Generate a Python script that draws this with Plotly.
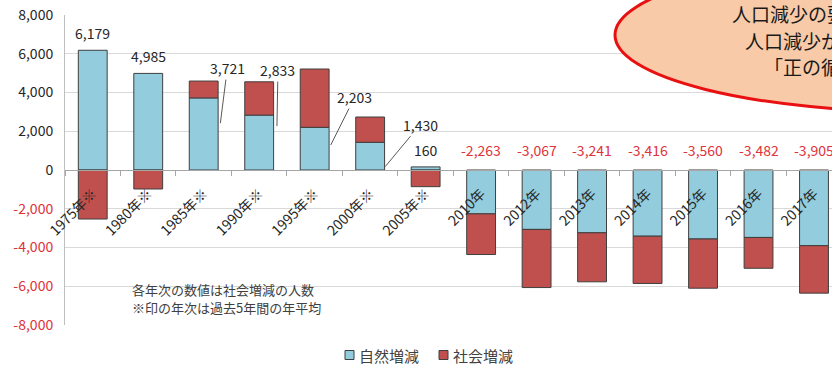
import plotly.graph_objects as go

# Years (※ = 5-year annual average)
years = ["1975年※", "1980年※", "1985年※", "1990年※", "1995年※", "2000年※", "2005年※",
         "2010年", "2012年", "2013年", "2014年", "2015年", "2016年", "2017年"]
natural_change = [6179, 4985, 3721, 2833, 2203, 1430, 160,
                  -2263, -3067, -3241, -3416, -3560, -3482, -3905]
social_change = [-2530, -980, 870, 1720, 3010, 1305, -860,
                 -2100, -3000, -2530, -2440, -2540, -1590, -2450]
y_ticks = [-8000, -6000, -4000, -2000, 0, 2000, 4000, 6000, 8000]
series_names = ["自然増減", "社会増減"]

FONT = "Noto Sans CJK JP"
BLUE = "#93CDDD"
RED = "#C0504D"
EDGE = "#3F3F3F"
NEG_TXT = "#E0323A"
W, H = 832, 365
L, R, T, B = 65, 0, 15, 40
PW, PH = W - L - R, H - T - B


def px(x):
    return (x - L) / PW


def py(y):
    return (H - B - y) / PH


fig = go.Figure()
fig.add_trace(go.Bar(x=years, y=natural_change, name=series_names[0],
                     marker=dict(color=BLUE, line=dict(color=EDGE, width=1))))
fig.add_trace(go.Bar(x=years, y=social_change, name=series_names[1],
                     marker=dict(color=RED, line=dict(color=EDGE, width=1))))

annotations = []
shapes = []


def fmt(v):
    return f"{v:,}"


# leader-line labels: (index, tip x offset, tip fraction of bar, text dx, text dy)
leaders = {2: (0.30, 0.65, 7, -55), 3: (0.32, 0.80, 1, -56),
           4: (0.29, 0.585, 24, -48), 5: (0.27, 0.12, 35, -42)}

for i, v in enumerate(natural_change):
    if v < 0:
        annotations.append(dict(x=i, y=0, xref="x", yref="y", text=fmt(v),
                                showarrow=False, yanchor="bottom", yshift=8,
                                font=dict(family=FONT, size=14, color=NEG_TXT)))
    elif i in leaders:
        dx, frac, ax, ay = leaders[i]
        annotations.append(dict(x=i + dx, y=v * frac, xref="x", yref="y", text=fmt(v),
                                showarrow=True, arrowhead=0, arrowwidth=1,
                                arrowcolor="#595959", ax=ax, ay=ay, standoff=0,
                                font=dict(family=FONT, size=14, color="#262626")))
    else:
        annotations.append(dict(x=i, y=v, xref="x", yref="y", text=fmt(v),
                                showarrow=False, yanchor="bottom", yshift=5,
                                font=dict(family=FONT, size=14, color="#262626")))

# footnote inside the plot
for txt, yy in [("各年次の数値は社会増減の人数", 289), ("※印の年次は過去5年間の年平均", 307)]:
    annotations.append(dict(x=px(130), y=py(yy), xref="paper", yref="paper",
                            xanchor="left", yanchor="middle", showarrow=False, text=txt,
                            font=dict(family=FONT, size=13, color="#404040")))

# callout bubble with its text
shapes.append(dict(type="circle", xref="paper", yref="paper",
                   x0=px(615), x1=px(1233), y0=py(112), y1=py(-42),
                   fillcolor="#F8CAA8", line=dict(color="#E81010", width=3), layer="above"))
for txt, x0, y0 in [("人口減少の要因と", 731, 13), ("人口減少が招く", 744, 40), ("「正の循環」", 763, 66)]:
    annotations.append(dict(x=px(x0), y=py(y0), xref="paper", yref="paper",
                            xanchor="left", yanchor="middle", showarrow=False, text=txt,
                            borderpad=0,
                            font=dict(family=FONT, size=19, color="#1A1A1A")))

# legend: small bordered squares followed by the series names
for name, color, sx in [(series_names[0], BLUE, 345), (series_names[1], RED, 439)]:
    shapes.append(dict(type="rect", xref="paper", yref="paper",
                       x0=px(sx), x1=px(sx + 9), y0=py(359.5), y1=py(350.5),
                       fillcolor=color, line=dict(color=EDGE, width=1)))
    annotations.append(dict(x=px(sx + 12), y=py(355), xref="paper", yref="paper",
                            xanchor="left", yanchor="middle", showarrow=False, text=name,
                            font=dict(family=FONT, size=15, color="#404040")))

ytext = []
for v in y_ticks:
    s = fmt(v)
    ytext.append(f"<span style='color:{NEG_TXT}'>{s}</span>" if v < 0 else s)

fig.update_layout(
    width=W, height=H,
    margin=dict(l=L, r=R, t=T, b=B, autoexpand=False),
    paper_bgcolor="white", plot_bgcolor="white",
    barmode="relative", bargap=0.48,
    font=dict(family=FONT, color="#262626"),
    showlegend=False,
    xaxis=dict(type="category", range=[-0.5, (W - 92.5) / 55.5],
               anchor="free", position=0.5, showline=True, linecolor="#A6A6A6",
               ticks="outside", tickson="boundaries", ticklen=5, tickcolor="#A6A6A6",
               tickangle=-45, showgrid=False, zeroline=False, ticklabelstandoff=9,
               tickfont=dict(family=FONT, size=14, color="#262626")),
    yaxis=dict(range=[-8000, 8000], tickvals=y_ticks, ticktext=ytext,
               showgrid=True, gridcolor="#D9D9D9", gridwidth=1,
               showline=True, linecolor="#BFBFBF", zeroline=False,
               ticklabelstandoff=8,
               tickfont=dict(family=FONT, size=14, color="#262626")),
    annotations=annotations, shapes=shapes,
)

fig.write_html("out.html")
